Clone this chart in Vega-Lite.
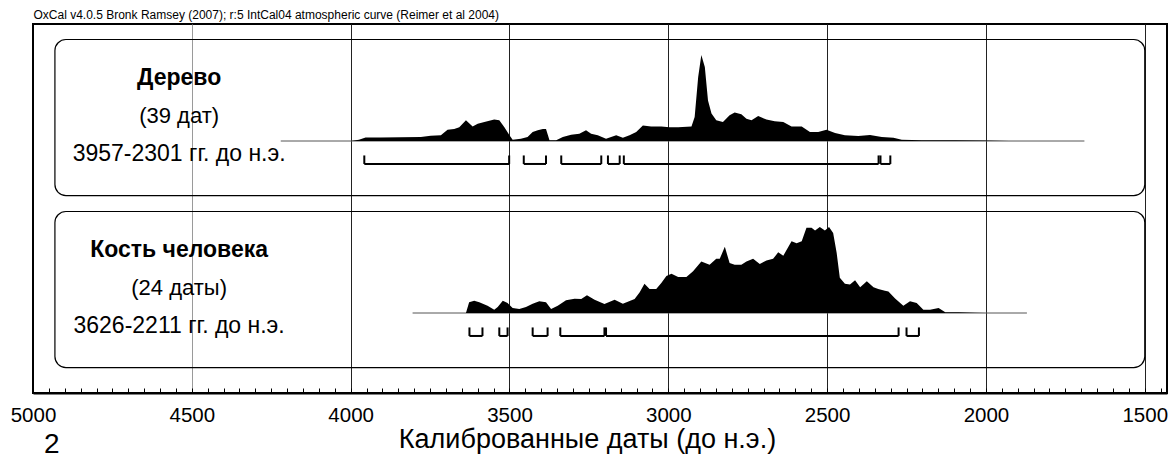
{
  "$schema": "https://vega.github.io/schema/vega-lite/v6.json",
  "width": 1134,
  "height": 369,
  "autosize": {"type": "none"},
  "padding": {"left": 33, "top": 24, "right": 9, "bottom": 69},
  "background": "white",
  "config": {
    "view": {"stroke": "black", "strokeWidth": 2},
    "font": "Liberation Sans",
    "text": {"font": "Liberation Sans", "color": "black"}
  },
  "title": {
    "text": "2",
    "orient": "bottom",
    "anchor": "start",
    "frame": "group",
    "font": "Liberation Sans",
    "fontSize": 28,
    "fontWeight": "normal",
    "color": "black",
    "dx": 11,
    "dy": -21,
    "offset": 0
  },
  "datasets": {
    "wood": [
      {"year": 4000, "p": 0}, {"year": 3974, "p": 0.016}, {"year": 3953, "p": 0.04}, {"year": 3905, "p": 0.04},
      {"year": 3842, "p": 0.043}, {"year": 3779, "p": 0.047}, {"year": 3748, "p": 0.062}, {"year": 3716, "p": 0.066},
      {"year": 3695, "p": 0.13}, {"year": 3674, "p": 0.14}, {"year": 3658, "p": 0.16}, {"year": 3637, "p": 0.24},
      {"year": 3616, "p": 0.17}, {"year": 3600, "p": 0.2}, {"year": 3579, "p": 0.22}, {"year": 3548, "p": 0.25},
      {"year": 3532, "p": 0.24}, {"year": 3516, "p": 0.16}, {"year": 3500, "p": 0.066}, {"year": 3490, "p": 0.016},
      {"year": 3464, "p": 0.027}, {"year": 3443, "p": 0.047}, {"year": 3427, "p": 0.105}, {"year": 3411, "p": 0.124},
      {"year": 3395, "p": 0.14}, {"year": 3385, "p": 0.14}, {"year": 3374, "p": 0.008}, {"year": 3353, "p": 0.008},
      {"year": 3332, "p": 0.047}, {"year": 3306, "p": 0.074}, {"year": 3280, "p": 0.085}, {"year": 3259, "p": 0.124},
      {"year": 3243, "p": 0.085}, {"year": 3222, "p": 0.066}, {"year": 3196, "p": 0.027}, {"year": 3164, "p": 0.066},
      {"year": 3143, "p": 0.039}, {"year": 3122, "p": 0.066}, {"year": 3101, "p": 0.105}, {"year": 3080, "p": 0.18},
      {"year": 3054, "p": 0.17}, {"year": 3022, "p": 0.17}, {"year": 2996, "p": 0.16}, {"year": 2969, "p": 0.16},
      {"year": 2927, "p": 0.17}, {"year": 2917, "p": 0.28}, {"year": 2906, "p": 0.74}, {"year": 2896, "p": 1.0},
      {"year": 2885, "p": 0.86}, {"year": 2875, "p": 0.47}, {"year": 2864, "p": 0.32}, {"year": 2849, "p": 0.24},
      {"year": 2828, "p": 0.22}, {"year": 2807, "p": 0.3}, {"year": 2791, "p": 0.33}, {"year": 2770, "p": 0.31},
      {"year": 2754, "p": 0.26}, {"year": 2738, "p": 0.24}, {"year": 2717, "p": 0.29}, {"year": 2691, "p": 0.25},
      {"year": 2665, "p": 0.23}, {"year": 2638, "p": 0.22}, {"year": 2612, "p": 0.17}, {"year": 2580, "p": 0.17},
      {"year": 2554, "p": 0.105}, {"year": 2528, "p": 0.105}, {"year": 2502, "p": 0.13}, {"year": 2475, "p": 0.093},
      {"year": 2444, "p": 0.066}, {"year": 2402, "p": 0.058}, {"year": 2365, "p": 0.07}, {"year": 2328, "p": 0.047},
      {"year": 2291, "p": 0.039}, {"year": 2265, "p": 0.016}, {"year": 2202, "p": 0.008}, {"year": 2097, "p": 0.008},
      {"year": 2002, "p": 0.005}, {"year": 1928, "p": 0}
    ],
    "bone": [
      {"year": 3637, "p": 0}, {"year": 3627, "p": 0.124}, {"year": 3611, "p": 0.143}, {"year": 3595, "p": 0.124},
      {"year": 3569, "p": 0.085}, {"year": 3548, "p": 0.039}, {"year": 3537, "p": 0.07}, {"year": 3521, "p": 0.143},
      {"year": 3506, "p": 0.116}, {"year": 3490, "p": 0.058}, {"year": 3469, "p": 0.047}, {"year": 3448, "p": 0.07},
      {"year": 3427, "p": 0.109}, {"year": 3406, "p": 0.136}, {"year": 3385, "p": 0.124}, {"year": 3369, "p": 0.047},
      {"year": 3348, "p": 0.085}, {"year": 3322, "p": 0.147}, {"year": 3295, "p": 0.167}, {"year": 3274, "p": 0.163},
      {"year": 3256, "p": 0.205}, {"year": 3232, "p": 0.155}, {"year": 3201, "p": 0.105}, {"year": 3169, "p": 0.155},
      {"year": 3143, "p": 0.109}, {"year": 3106, "p": 0.163}, {"year": 3090, "p": 0.24}, {"year": 3075, "p": 0.34},
      {"year": 3059, "p": 0.28}, {"year": 3038, "p": 0.28}, {"year": 3022, "p": 0.35}, {"year": 3006, "p": 0.43},
      {"year": 2990, "p": 0.457}, {"year": 2969, "p": 0.42}, {"year": 2943, "p": 0.42}, {"year": 2922, "p": 0.485},
      {"year": 2896, "p": 0.6}, {"year": 2870, "p": 0.56}, {"year": 2849, "p": 0.63}, {"year": 2838, "p": 0.63},
      {"year": 2822, "p": 0.77}, {"year": 2807, "p": 0.58}, {"year": 2791, "p": 0.56}, {"year": 2770, "p": 0.56},
      {"year": 2754, "p": 0.6}, {"year": 2733, "p": 0.63}, {"year": 2712, "p": 0.57}, {"year": 2691, "p": 0.61},
      {"year": 2670, "p": 0.63}, {"year": 2654, "p": 0.705}, {"year": 2638, "p": 0.667}, {"year": 2612, "p": 0.833},
      {"year": 2596, "p": 0.81}, {"year": 2580, "p": 0.833}, {"year": 2565, "p": 0.99}, {"year": 2549, "p": 0.99},
      {"year": 2538, "p": 0.96}, {"year": 2523, "p": 1.0}, {"year": 2507, "p": 0.96}, {"year": 2494, "p": 1.0},
      {"year": 2481, "p": 0.93}, {"year": 2470, "p": 0.7}, {"year": 2460, "p": 0.41}, {"year": 2444, "p": 0.34},
      {"year": 2428, "p": 0.33}, {"year": 2412, "p": 0.38}, {"year": 2396, "p": 0.3}, {"year": 2375, "p": 0.37},
      {"year": 2354, "p": 0.3}, {"year": 2339, "p": 0.28}, {"year": 2318, "p": 0.26}, {"year": 2307, "p": 0.25},
      {"year": 2286, "p": 0.17}, {"year": 2260, "p": 0.085}, {"year": 2239, "p": 0.136}, {"year": 2218, "p": 0.116},
      {"year": 2197, "p": 0.039}, {"year": 2176, "p": 0.039}, {"year": 2149, "p": 0.058}, {"year": 2128, "p": 0.008},
      {"year": 2086, "p": 0.008}, {"year": 2034, "p": 0.004}, {"year": 2000, "p": 0}
    ],
    "woodTail": [{"from": 4220, "to": 1690}],
    "boneTail": [{"from": 3805, "to": 1871}],
    "woodRanges": [
      {"from": 3957, "to": 3501}, {"from": 3455, "to": 3385}, {"from": 3337, "to": 3211},
      {"from": 3190, "to": 3153}, {"from": 3140, "to": 2338}, {"from": 2332, "to": 2301}
    ],
    "boneRanges": [
      {"from": 3626, "to": 3585}, {"from": 3532, "to": 3506}, {"from": 3427, "to": 3380},
      {"from": 3340, "to": 3201}, {"from": 3196, "to": 2275}, {"from": 2250, "to": 2211}
    ],
    "woodInfo": [{"name": "Дерево", "count": "(39 дат)", "span": "3957-2301 гг. до н.э."}],
    "boneInfo": [{"name": "Кость человека", "count": "(24 даты)", "span": "3626-2211 гг. до н.э."}]
  },
  "layer": [
    {
      "data": {"values": [{}]},
      "mark": {"type": "rule", "color": "black", "strokeWidth": 2},
      "encoding": {
        "x": {
          "datum": 5000,
          "type": "quantitative",
          "scale": {"domain": [1430, 5000], "reverse": true, "nice": false, "zero": false},
          "axis": {
            "orient": "bottom",
            "values": [5000, 4950, 4900, 4850, 4800, 4750, 4700, 4650, 4600, 4550, 4500, 4450, 4400, 4350, 4300, 4250, 4200, 4150, 4100, 4050, 4000, 3950, 3900, 3850, 3800, 3750, 3700, 3650, 3600, 3550, 3500, 3450, 3400, 3350, 3300, 3250, 3200, 3150, 3100, 3050, 3000, 2950, 2900, 2850, 2800, 2750, 2700, 2650, 2600, 2550, 2500, 2450, 2400, 2350, 2300, 2250, 2200, 2150, 2100, 2050, 2000, 1950, 1900, 1850, 1800, 1750, 1700, 1650, 1600, 1550, 1500, 1450],
            "format": "d",
            "labelExpr": "datum.value % 500 === 0 ? datum.label : ''",
            "labelFont": "Liberation Sans",
            "labelFontSize": 20.5,
            "labelColor": "black",
            "labelPadding": 17,
            "labelOverlap": false,
            "labelBound": false,
            "labelFlush": false,
            "ticks": true,
            "tickSize": -5,
            "tickColor": "black",
            "tickWidth": 1,
            "domain": true,
            "domainColor": "black",
            "domainWidth": 2,
            "grid": true,
            "gridColor": {"condition": {"test": "datum.value === 4500", "value": "#9a9a9a"}, "value": "#222222"},
            "gridOpacity": {"condition": {"test": "datum.value % 500 === 0", "value": 1}, "value": 0},
            "gridWidth": 1,
            "title": "Калиброванные даты (до н.э.)",
            "titleFont": "Liberation Sans",
            "titleFontSize": 27,
            "titleFontWeight": "normal",
            "titleColor": "black",
            "titleX": 554,
            "titleY": 54,
            "titleAlign": "center",
            "titleBaseline": "alphabetic"
          }
        }
      }
    },
    {
      "data": {"values": [{}]},
      "mark": {"type": "rule", "color": "black", "strokeWidth": 2},
      "encoding": {
        "x": {
          "datum": 1430,
          "type": "quantitative",
          "axis": {
            "orient": "top",
            "domain": false,
            "ticks": false,
            "labels": false,
            "grid": false,
            "title": "OxCal v4.0.5 Bronk Ramsey (2007); r:5 IntCal04 atmospheric curve (Reimer et al 2004)",
            "titleFont": "Liberation Sans",
            "titleFontSize": 12,
            "titleFontWeight": "normal",
            "titleColor": "black",
            "titleX": 0,
            "titleY": -6,
            "titleAlign": "left",
            "titleBaseline": "alphabetic"
          }
        }
      }
    },
    {
      "layer": [
        {
          "data": {"name": "woodInfo"},
          "mark": {"type": "rect", "filled": false, "color": "black", "strokeWidth": 1.2, "cornerRadius": 11},
          "encoding": {
            "x": {"datum": 4931, "type": "quantitative", "axis": null},
            "x2": {"datum": 1500},
            "y": {"datum": 1.18, "type": "quantitative", "scale": {"domain": [-2.9302, 1.3605], "nice": false, "zero": false}, "axis": null},
            "y2": {"datum": -0.634}
          }
        },
        {
          "data": {"name": "woodTail"},
          "mark": {"type": "rule", "color": "#555555", "strokeWidth": 1},
          "encoding": {
            "x": {"field": "from", "type": "quantitative", "axis": null},
            "x2": {"field": "to"},
            "y": {"datum": 0, "type": "quantitative", "axis": null}
          }
        },
        {
          "data": {"name": "wood"},
          "mark": {"type": "area", "color": "black", "interpolate": "linear"},
          "encoding": {
            "x": {"field": "year", "type": "quantitative", "axis": null},
            "y": {"field": "p", "type": "quantitative", "axis": null},
            "y2": {"datum": 0}
          }
        },
        {
          "data": {"name": "woodRanges"},
          "mark": {"type": "rule", "color": "black", "strokeWidth": 2},
          "encoding": {
            "x": {"field": "from", "type": "quantitative", "axis": null},
            "x2": {"field": "to"},
            "y": {"datum": -0.267, "type": "quantitative", "axis": null}
          }
        },
        {
          "data": {"name": "woodRanges"},
          "mark": {"type": "rule", "color": "black", "strokeWidth": 2},
          "encoding": {
            "x": {"field": "from", "type": "quantitative", "axis": null},
            "y": {"datum": -0.267, "type": "quantitative", "axis": null},
            "y2": {"datum": -0.168}
          }
        },
        {
          "data": {"name": "woodRanges"},
          "mark": {"type": "rule", "color": "black", "strokeWidth": 2},
          "encoding": {
            "x": {"field": "to", "type": "quantitative", "axis": null},
            "y": {"datum": -0.267, "type": "quantitative", "axis": null},
            "y2": {"datum": -0.168}
          }
        },
        {
          "data": {"name": "woodInfo"},
          "mark": {"type": "text", "fontSize": 23, "fontWeight": "bold", "align": "center", "baseline": "alphabetic"},
          "encoding": {
            "x": {"datum": 4540, "type": "quantitative", "axis": null},
            "y": {"datum": 0.648, "type": "quantitative", "axis": null},
            "text": {"field": "name"}
          }
        },
        {
          "data": {"name": "woodInfo"},
          "mark": {"type": "text", "fontSize": 22, "align": "center", "baseline": "alphabetic"},
          "encoding": {
            "x": {"datum": 4540, "type": "quantitative", "axis": null},
            "y": {"datum": 0.21, "type": "quantitative", "axis": null},
            "text": {"field": "count"}
          }
        },
        {
          "data": {"name": "woodInfo"},
          "mark": {"type": "text", "fontSize": 23, "align": "center", "baseline": "alphabetic"},
          "encoding": {
            "x": {"datum": 4540, "type": "quantitative", "axis": null},
            "y": {"datum": -0.232, "type": "quantitative", "axis": null},
            "text": {"field": "span"}
          }
        }
      ]
    },
    {
      "layer": [
        {
          "data": {"name": "boneInfo"},
          "mark": {"type": "rect", "filled": false, "color": "black", "strokeWidth": 1.2, "cornerRadius": 11},
          "encoding": {
            "x": {"datum": 4931, "type": "quantitative", "axis": null},
            "x2": {"datum": 1500},
            "y": {"datum": 1.18, "type": "quantitative", "scale": {"domain": [-0.9302, 3.3605], "nice": false, "zero": false}, "axis": null},
            "y2": {"datum": -0.634}
          }
        },
        {
          "data": {"name": "boneTail"},
          "mark": {"type": "rule", "color": "#555555", "strokeWidth": 1},
          "encoding": {
            "x": {"field": "from", "type": "quantitative", "axis": null},
            "x2": {"field": "to"},
            "y": {"datum": 0, "type": "quantitative", "axis": null}
          }
        },
        {
          "data": {"name": "bone"},
          "mark": {"type": "area", "color": "black", "interpolate": "linear"},
          "encoding": {
            "x": {"field": "year", "type": "quantitative", "axis": null},
            "y": {"field": "p", "type": "quantitative", "axis": null},
            "y2": {"datum": 0}
          }
        },
        {
          "data": {"name": "boneRanges"},
          "mark": {"type": "rule", "color": "black", "strokeWidth": 2},
          "encoding": {
            "x": {"field": "from", "type": "quantitative", "axis": null},
            "x2": {"field": "to"},
            "y": {"datum": -0.267, "type": "quantitative", "axis": null}
          }
        },
        {
          "data": {"name": "boneRanges"},
          "mark": {"type": "rule", "color": "black", "strokeWidth": 2},
          "encoding": {
            "x": {"field": "from", "type": "quantitative", "axis": null},
            "y": {"datum": -0.267, "type": "quantitative", "axis": null},
            "y2": {"datum": -0.168}
          }
        },
        {
          "data": {"name": "boneRanges"},
          "mark": {"type": "rule", "color": "black", "strokeWidth": 2},
          "encoding": {
            "x": {"field": "to", "type": "quantitative", "axis": null},
            "y": {"datum": -0.267, "type": "quantitative", "axis": null},
            "y2": {"datum": -0.168}
          }
        },
        {
          "data": {"name": "boneInfo"},
          "mark": {"type": "text", "fontSize": 23, "fontWeight": "bold", "align": "center", "baseline": "alphabetic"},
          "encoding": {
            "x": {"datum": 4540, "type": "quantitative", "axis": null},
            "y": {"datum": 0.648, "type": "quantitative", "axis": null},
            "text": {"field": "name"}
          }
        },
        {
          "data": {"name": "boneInfo"},
          "mark": {"type": "text", "fontSize": 22, "align": "center", "baseline": "alphabetic"},
          "encoding": {
            "x": {"datum": 4540, "type": "quantitative", "axis": null},
            "y": {"datum": 0.21, "type": "quantitative", "axis": null},
            "text": {"field": "count"}
          }
        },
        {
          "data": {"name": "boneInfo"},
          "mark": {"type": "text", "fontSize": 23, "align": "center", "baseline": "alphabetic"},
          "encoding": {
            "x": {"datum": 4540, "type": "quantitative", "axis": null},
            "y": {"datum": -0.232, "type": "quantitative", "axis": null},
            "text": {"field": "span"}
          }
        }
      ]
    }
  ],
  "resolve": {"scale": {"y": "independent"}, "axis": {"x": "independent"}}
}
